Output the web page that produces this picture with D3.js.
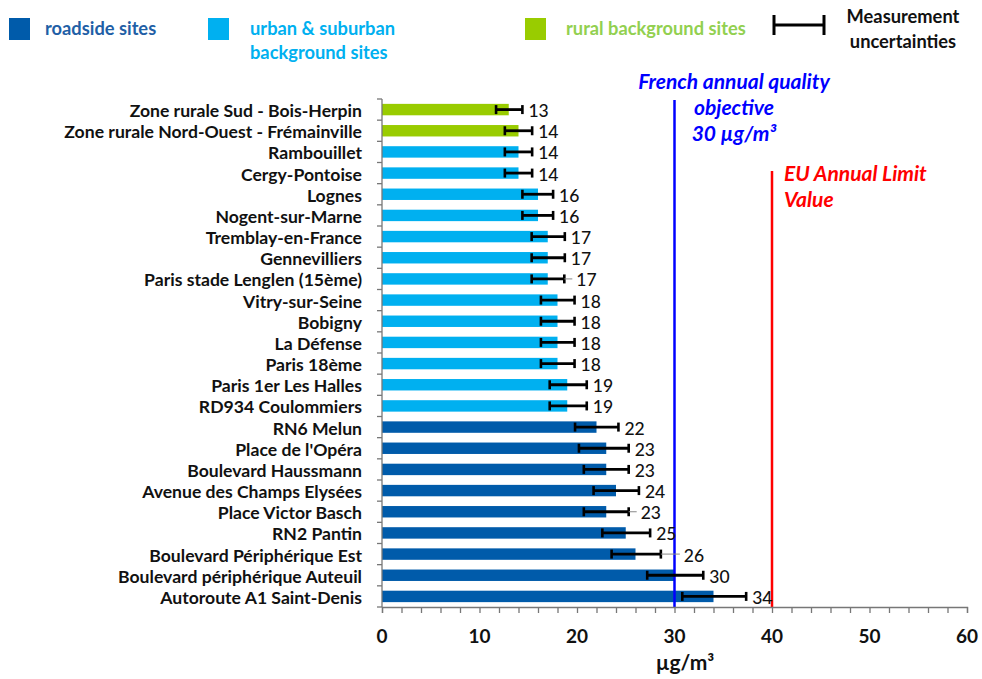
<!DOCTYPE html>
<html>
<head>
<meta charset="utf-8">
<script src="https://cdn.jsdelivr.net/npm/d3@7"></script>
<style>
  html, body { margin: 0; padding: 0; background: #fff; }
  svg { display: block; font-family: Lato, "Open Sans", sans-serif; }
</style>
</head>
<body>
<svg id="chart" width="982" height="679"></svg>
<script>
// Annual mean NO2 concentration per monitoring site (µg/m³)
const sites = [
  "Zone rurale Sud - Bois-Herpin",
  "Zone rurale Nord-Ouest - Frémainville",
  "Rambouillet",
  "Cergy-Pontoise",
  "Lognes",
  "Nogent-sur-Marne",
  "Tremblay-en-France",
  "Gennevilliers",
  "Paris stade Lenglen (15ème)",
  "Vitry-sur-Seine",
  "Bobigny",
  "La Défense",
  "Paris 18ème",
  "Paris 1er Les Halles",
  "RD934 Coulommiers",
  "RN6 Melun",
  "Place de l'Opéra",
  "Boulevard Haussmann",
  "Avenue des Champs Elysées",
  "Place Victor Basch",
  "RN2 Pantin",
  "Boulevard Périphérique Est",
  "Boulevard périphérique Auteuil",
  "Autoroute A1 Saint-Denis"
];
const siteTypes = [
  "rural", "rural",
  "urban", "urban", "urban", "urban", "urban", "urban", "urban",
  "urban", "urban", "urban", "urban", "urban", "urban",
  "roadside", "roadside", "roadside", "roadside", "roadside",
  "roadside", "roadside", "roadside", "roadside"
];
const values = [13, 14, 14, 14, 16, 16, 17, 17, 17, 18, 18, 18, 18, 19, 19,
                22, 23, 23, 24, 23, 25, 26, 30, 34];
// Measurement uncertainty range (low / high bound)
const errLow  = [11.7, 12.6, 12.6, 12.6, 14.4, 14.4, 15.35, 15.35, 15.35, 16.3, 16.3, 16.3, 16.3, 17.2, 17.2,
                 19.8, 20.2, 20.7, 21.7, 20.7, 22.6, 23.55, 27.2, 30.8];
const errHigh = [14.4, 15.4, 15.4, 15.4, 17.55, 17.55, 18.75, 18.75, 18.7, 19.75, 19.75, 19.75, 19.75, 21.0, 21.0,
                 24.25, 25.3, 25.3, 26.35, 25.3, 27.5, 28.6, 32.95, 37.35];
const xTicks = [0, 10, 20, 30, 40, 50, 60];
const frenchObjective = 30;
const euLimit = 40;

const typeColor = { roadside: "#005BAA", urban: "#00B0F0", rural: "#99CC00" };
// a few value labels sit further out, joined by a thin leader line
const labelNudge = { "Paris stade Lenglen (15ème)": 6, "Place Victor Basch": 6, "Boulevard Périphérique Est": 17 };

const svg = d3.select("#chart");

const x = d3.scaleLinear().domain([0, 60]).range([382, 967]);
const y = d3.scaleBand().domain(sites).range([99, 607]).paddingInner(0.46).paddingOuter(0.23);
const step = y.step();

const data = sites.map((s, i) => ({
  site: s, type: siteTypes[i], value: values[i], lo: errLow[i], hi: errHigh[i]
}));

// bars
svg.append("g").selectAll("rect").data(data).join("rect")
  .attr("x", x(0))
  .attr("y", d => y(d.site))
  .attr("width", d => x(d.value) - x(0))
  .attr("height", y.bandwidth())
  .attr("fill", d => typeColor[d.type]);

// reference lines
svg.append("line")
  .attr("x1", x(frenchObjective)).attr("x2", x(frenchObjective))
  .attr("y1", 100).attr("y2", 607)
  .attr("stroke", "#0000FF").attr("stroke-width", 2.5);
svg.append("line")
  .attr("x1", x(euLimit)).attr("x2", x(euLimit))
  .attr("y1", 171).attr("y2", 607)
  .attr("stroke", "#FF0000").attr("stroke-width", 2.5);

// error bars
const eb = svg.append("g").selectAll("g").data(data).join("g")
  .attr("transform", d => `translate(0,${y(d.site) + y.bandwidth() / 2})`);
eb.append("line")
  .attr("x1", d => x(d.lo)).attr("x2", d => x(d.hi))
  .attr("stroke", "#000").attr("stroke-width", 2.8);
eb.append("line")
  .attr("x1", d => x(d.lo)).attr("x2", d => x(d.lo))
  .attr("y1", -4.5).attr("y2", 4.5)
  .attr("stroke", "#000").attr("stroke-width", 2.6);
eb.append("line")
  .attr("x1", d => x(d.hi)).attr("x2", d => x(d.hi))
  .attr("y1", -4.5).attr("y2", 4.5)
  .attr("stroke", "#000").attr("stroke-width", 2.6);

// leader lines for offset labels
eb.filter(d => labelNudge[d.site])
  .append("line")
  .attr("x1", d => x(d.hi)).attr("x2", d => x(d.hi) + labelNudge[d.site] + 2)
  .attr("stroke", "#888").attr("stroke-width", 1);

// value labels
eb.append("text")
  .attr("x", d => x(d.hi) + 6 + (labelNudge[d.site] || 0))
  .attr("y", 1)
  .attr("dominant-baseline", "central")
  .attr("font-size", 17.5)
  .attr("font-weight", 500)
  .attr("fill", "#111")
  .text(d => d.value);

// y axis: line, boundary ticks, site names
const yAxis = svg.append("g");
yAxis.append("line")
  .attr("x1", x(0)).attr("x2", x(0)).attr("y1", 99).attr("y2", 607)
  .attr("stroke", "#777").attr("stroke-width", 1.3);
yAxis.selectAll("line.tk").data(d3.range(sites.length + 1)).join("line")
  .attr("class", "tk")
  .attr("x1", x(0) - 5).attr("x2", x(0))
  .attr("y1", i => 99 + i * step).attr("y2", i => 99 + i * step)
  .attr("stroke", "#777").attr("stroke-width", 1.3);
yAxis.selectAll("text").data(data).join("text")
  .attr("x", 362)
  .attr("y", d => y(d.site) + y.bandwidth() / 2 + 1)
  .attr("text-anchor", "end")
  .attr("dominant-baseline", "central")
  .attr("font-size", 17.6)
  .attr("font-weight", 700)
  .attr("fill", "#111")
  .text(d => d.site);

// x axis
const xAxis = svg.append("g").attr("transform", "translate(0,607)")
  .call(d3.axisBottom(x).tickValues(d3.range(0, 61, 2)).tickSize(6).tickFormat(""));
xAxis.select(".domain").attr("stroke", "#777").attr("stroke-width", 1.3);
xAxis.selectAll(".tick line").attr("stroke", "#777").attr("stroke-width", 1.3);
svg.append("g").selectAll("text").data(xTicks).join("text")
  .attr("x", d => x(d))
  .attr("y", 643)
  .attr("text-anchor", "middle")
  .attr("font-size", 19)
  .attr("font-weight", 700)
  .attr("fill", "#111")
  .text(d => d);
svg.append("text")
  .attr("x", 685).attr("y", 670)
  .attr("text-anchor", "middle")
  .attr("font-size", 21).attr("font-weight", 700).attr("fill", "#111")
  .text("µg/m³");

// reference line captions
const fr = svg.append("text")
  .attr("text-anchor", "middle")
  .attr("font-size", 21).attr("font-weight", 700).attr("font-style", "italic")
  .attr("fill", "#0000FF");
fr.append("tspan").attr("x", 734).attr("y", 89).text("French annual quality");
fr.append("tspan").attr("x", 734).attr("y", 115).text("objective");
fr.append("tspan").attr("x", 734).attr("y", 141).text("30 µg/m³");
const eu = svg.append("text")
  .attr("font-size", 21).attr("font-weight", 700).attr("font-style", "italic")
  .attr("fill", "#FF0000");
eu.append("tspan").attr("x", 784).attr("y", 181).text("EU Annual Limit");
eu.append("tspan").attr("x", 784).attr("y", 207).text("Value");

// legend
const legend = svg.append("g").attr("font-size", 18.3).attr("font-weight", 700);
const legItems = [
  { type: "roadside", sx: 9, tx: 45, lines: ["roadside sites"], text: "#1F5FA6" },
  { type: "urban", sx: 208, tx: 250, lines: ["urban & suburban", "background sites"], text: "#00B0F0" },
  { type: "rural", sx: 525, tx: 566, lines: ["rural background sites"], text: "#92D050" }
];
legItems.forEach(it => {
  legend.append("rect").attr("x", it.sx).attr("y", 18).attr("width", 21).attr("height", 22)
    .attr("fill", typeColor[it.type]);
  const t = legend.append("text").attr("fill", it.text);
  it.lines.forEach((l, k) => t.append("tspan").attr("x", it.tx).attr("y", 35 + k * 24).text(l));
});
legend.append("line").attr("x1", 773).attr("x2", 825).attr("y1", 25).attr("y2", 25)
  .attr("stroke", "#000").attr("stroke-width", 3);
legend.append("line").attr("x1", 774).attr("x2", 774).attr("y1", 15).attr("y2", 35)
  .attr("stroke", "#000").attr("stroke-width", 3);
legend.append("line").attr("x1", 824).attr("x2", 824).attr("y1", 15).attr("y2", 35)
  .attr("stroke", "#000").attr("stroke-width", 3);
const mt = legend.append("text").attr("fill", "#111").attr("text-anchor", "middle");
mt.append("tspan").attr("x", 903).attr("y", 23).text("Measurement");
mt.append("tspan").attr("x", 903).attr("y", 48).text("uncertainties");
</script>
</body>
</html>
